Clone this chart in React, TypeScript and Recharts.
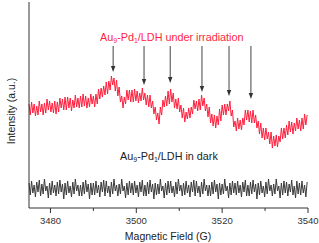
import React from 'react';
import { LineChart, Line, XAxis, YAxis, ReferenceLine, ReferenceDot } from 'recharts';

const FIELD_START = 3475;
const FIELD_STEP = 0.3;

const irradiation = [
  104, 93, 106, 95, 104, 92, 102, 93, 107, 96,
  104, 93, 105, 95, 109, 98, 107, 96, 105, 95,
  107, 94, 106, 96, 110, 100, 109, 98, 111, 98,
  111, 100, 110, 97, 108, 100, 113, 101, 110, 100,
  112, 101, 114, 102, 112, 100, 110, 101, 114, 104,
  112, 101, 114, 104, 119, 109, 120, 111, 122, 113,
  126, 114, 127, 118, 132, 123, 130, 117, 128, 112,
  121, 106, 112, 100, 111, 104, 118, 108, 118, 106,
  118, 106, 119, 107, 117, 105, 115, 107, 120, 108,
  115, 103, 113, 101, 113, 100, 107, 94, 101, 88,
  95, 84, 101, 93, 108, 101, 112, 102, 117, 104,
  119, 106, 115, 100, 109, 99, 110, 96, 103, 90,
  100, 86, 96, 89, 100, 90, 101, 94, 108, 99,
  107, 97, 109, 98, 113, 102, 110, 97, 104, 91,
  101, 85, 94, 82, 93, 80, 92, 83, 99, 87,
  103, 93, 104, 93, 104, 97, 107, 92, 98, 81,
  87, 77, 90, 79, 88, 78, 90, 83, 98, 88,
  98, 86, 97, 85, 98, 85, 93, 80, 87, 74,
  85, 70, 80, 68, 80, 69, 76, 64, 76, 60,
  72, 62, 73, 61, 72, 66, 80, 69, 80, 70,
  83, 73, 87, 76, 86, 74, 85, 77, 90, 79,
  88, 77, 90, 79, 94, 83, 93,
];

const dark = [
  25, 13, 27, 15, 23, 11, 26, 16, 28, 12,
  24, 14, 29, 17, 22, 10, 25, 13, 27, 15,
  23, 12, 26, 14, 28, 16, 24, 9, 25, 13,
  27, 15, 22, 11, 26, 14, 29, 17, 23, 12,
  23, 12, 26, 14, 28, 16, 24, 9, 25, 13,
  25, 13, 27, 15, 23, 11, 26, 16, 28, 12,
  27, 15, 22, 11, 26, 14, 29, 17, 23, 12,
  24, 14, 29, 17, 22, 10, 25, 13, 27, 15,
  25, 13, 27, 15, 23, 11, 26, 16, 28, 12,
  23, 12, 26, 14, 28, 16, 24, 9, 25, 13,
  24, 14, 29, 17, 22, 10, 25, 13, 27, 15,
  27, 15, 22, 11, 26, 14, 29, 17, 23, 12,
  25, 13, 27, 15, 23, 11, 26, 16, 28, 12,
  27, 15, 22, 11, 26, 14, 29, 17, 23, 12,
  23, 12, 26, 14, 28, 16, 24, 9, 25, 13,
  24, 14, 29, 17, 22, 10, 25, 13, 27, 15,
  25, 13, 27, 15, 23, 11, 26, 16, 28, 12,
  23, 12, 26, 14, 28, 16, 24, 9, 25, 13,
  27, 15, 22, 11, 26, 14, 29, 17, 23, 12,
  24, 14, 29, 17, 22, 10, 25, 13, 27, 15,
  26, 12, 24, 16, 28, 13, 22, 10, 27, 14,
  25, 13, 27, 15, 23, 11, 26,
];

const arrowFields = [3494.6, 3501.8, 3507.9, 3515.3, 3521.6, 3526.7];
const arrowTips = [136, 123, 125, 116, 112, 109];
const ARROW_TOP = 162;

const xTicks = [3480, 3490, 3500, 3510, 3520, 3530, 3540];
const majorTicks = [3480, 3500, 3520, 3540];

const data = irradiation.map((v, i) => ({
  field: +(FIELD_START + i * FIELD_STEP).toFixed(2),
  irr: v,
  dark: dark[i],
}));

const RED = '#ff1f3d';
const AXIS = '#333333';
const FONT = '"Liberation Sans", Arial, sans-serif';

const Tick = (props: any) => {
  const { x, y, payload } = props;
  const major = majorTicks.includes(payload.value);
  return (
    <g>
      <line x1={x} x2={x} y1={y} y2={y + (major ? 5 : 3)} stroke={AXIS} strokeWidth={1} />
      {major && (
        <text x={x} y={y + 16} textAnchor="middle" fontSize={9.5} fill={AXIS} fontFamily={FONT}>
          {payload.value}
        </text>
      )}
    </g>
  );
};

const ArrowHead = (p: any) => (
  <path d={`M${p.cx - 2.2},${p.cy - 6} L${p.cx + 2.2},${p.cy - 6} L${p.cx},${p.cy} Z`} fill={AXIS} />
);

export default function App() {
  return (
    <div style={{ position: 'absolute', left: 0, top: 0, width: 319, height: 243, background: '#fff' }}>
      <LineChart width={319} height={243} data={data} margin={{ top: 2, right: 11, bottom: 0, left: 0 }}>
        <XAxis
          dataKey="field"
          type="number"
          domain={[3475, 3540]}
          ticks={xTicks}
          tickSize={0}
          tickMargin={0}
          tick={<Tick />}
          height={35}
          stroke={AXIS}
          interval={0}
        />
        <XAxis xAxisId="top" orientation="top" dataKey="field" type="number" domain={[3475, 3540]} tick={false} tickLine={false} height={0} stroke={AXIS} />
        <YAxis domain={[0, 206]} tick={false} tickLine={false} width={29} stroke={AXIS} />
        <YAxis yAxisId="right" orientation="right" domain={[0, 206]} tick={false} tickLine={false} width={0} stroke={AXIS} />
        <Line dataKey="irr" stroke={RED} strokeWidth={1} dot={false} isAnimationActive={false} type="linear" />
        <Line dataKey="dark" stroke="#3a3a3a" strokeWidth={1} dot={false} isAnimationActive={false} type="linear" />
        {arrowFields.map((f, i) => (
          <ReferenceLine
            key={'l' + i}
            segment={[{ x: f, y: ARROW_TOP }, { x: f, y: arrowTips[i] + 5 }]}
            stroke="#444"
            strokeWidth={1}
          />
        ))}
        {arrowFields.map((f, i) => (
          <ReferenceDot key={'d' + i} x={f} y={arrowTips[i]} r={3} shape={ArrowHead} />
        ))}
      </LineChart>
      <svg width={319} height={243} style={{ position: 'absolute', left: 0, top: 0, pointerEvents: 'none' }}>
        <text x={100} y={41} fontSize={10.8} fill={RED} fontFamily={FONT}>
          Au<tspan fontSize={7} dy={2}>9</tspan>
          <tspan dy={-2}>-Pd</tspan>
          <tspan fontSize={7} dy={2}>1</tspan>
          <tspan dy={-2}>/LDH under irradiation</tspan>
        </text>
        <text x={120} y={160} fontSize={10.8} fill="#222" fontFamily={FONT}>
          Au<tspan fontSize={7} dy={2}>9</tspan>
          <tspan dy={-2}>-Pd</tspan>
          <tspan fontSize={7} dy={2}>1</tspan>
          <tspan dy={-2}>/LDH in dark</tspan>
        </text>
        <text x={168} y={240} fontSize={10.5} fill="#222" textAnchor="middle" fontFamily={FONT}>
          Magnetic Field (G)
        </text>
        <text
          x={15}
          y={111}
          fontSize={10.5}
          fill="#222"
          textAnchor="middle"
          fontFamily={FONT}
          transform="rotate(-90 15 111)"
        >
          Intensity (a.u.)
        </text>
      </svg>
    </div>
  );
}
